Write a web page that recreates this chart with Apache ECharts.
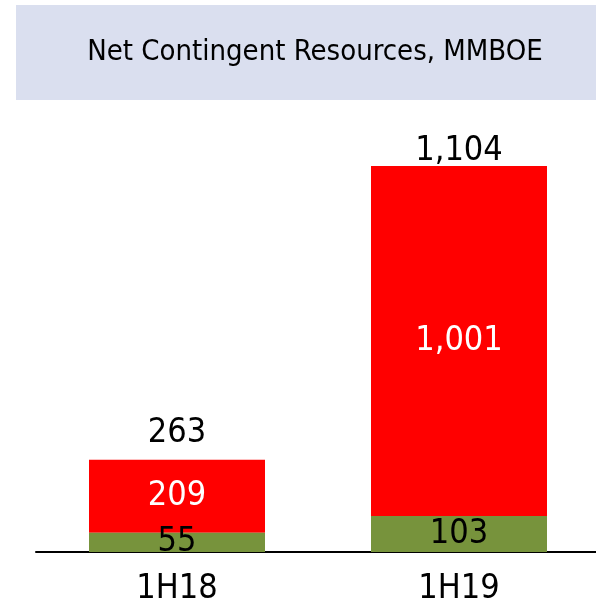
<!DOCTYPE html>
<html>
<head>
<meta charset="utf-8">
<script src="https://cdn.jsdelivr.net/npm/echarts@6/dist/echarts.min.js"></script>
<style>
  html, body { margin: 0; padding: 0; background: #fff; }
  #chart { width: 596px; height: 600px; }
</style>
</head>
<body>
<div id="chart"></div>
<script>
const categories = ['1H18', '1H19']
const greenValues = [55, 103]
const redValues = [209, 1001]
const totals = [263, 1104]

const font = '"Liberation Sans Narrow", "DejaVu Sans Condensed", Roboto, sans-serif'
const fmt = (v) => v.toLocaleString('en-US')

const chart = echarts.init(document.getElementById('chart'))

// gap between bar top and total label differs in the source
const totalGaps = [10, -2]

chart.setOption({
  animation: false,
  graphic: [
    {
      type: 'rect',
      left: 16,
      top: 5,
      shape: { width: 580, height: 95 },
      style: { fill: '#dadfef' },
      z: 0
    }
  ],
  title: {
    text: 'Net Contingent Resources, MMBOE',
    left: 310,
    top: 33,
    textAlign: 'center',
    textStyle: { fontFamily: font, fontWeight: 'normal', fontSize: 29, color: '#000' }
  },
  grid: { left: 36, right: -4, top: 110, bottom: 48, outerBoundsMode: 'none' },
  xAxis: {
    type: 'category',
    data: categories,
    axisLine: { lineStyle: { color: '#000', width: 2 } },
    axisTick: { show: false },
    axisLabel: { color: '#000', fontFamily: font, fontSize: 34, margin: 20 }
  },
  yAxis: {
    type: 'value',
    min: 0,
    max: 1264,
    show: false,
    splitLine: { show: false }
  },
  series: [
    {
      name: 'green',
      type: 'bar',
      stack: 'total',
      barWidth: 176,
      itemStyle: { color: '#77933c' },
      label: {
        show: true,
        position: 'inside',
        color: '#000',
        fontFamily: font,
        fontSize: 34,
        formatter: (p) => fmt(p.value)
      },
      data: greenValues,
      z: 3
    },
    {
      name: 'red',
      type: 'bar',
      stack: 'total',
      barWidth: 176,
      itemStyle: { color: '#ff0000' },
      label: {
        show: true,
        position: 'inside',
        color: '#fff',
        fontFamily: font,
        fontSize: 34,
        formatter: (p) => fmt(p.value)
      },
      data: redValues,
      z: 2
    },
    {
      name: 'total',
      type: 'bar',
      barGap: '-100%',
      barWidth: 176,
      itemStyle: { color: 'rgba(0,0,0,0)' },
      label: {
        show: true,
        position: 'top',
        color: '#000',
        fontFamily: font,
        fontSize: 34,
        formatter: (p) => fmt(p.value)
      },
      data: totals.map((v, i) => ({ value: v, label: { distance: totalGaps[i] } })),
      z: 1
    }
  ]
})
</script>
</body>
</html>
